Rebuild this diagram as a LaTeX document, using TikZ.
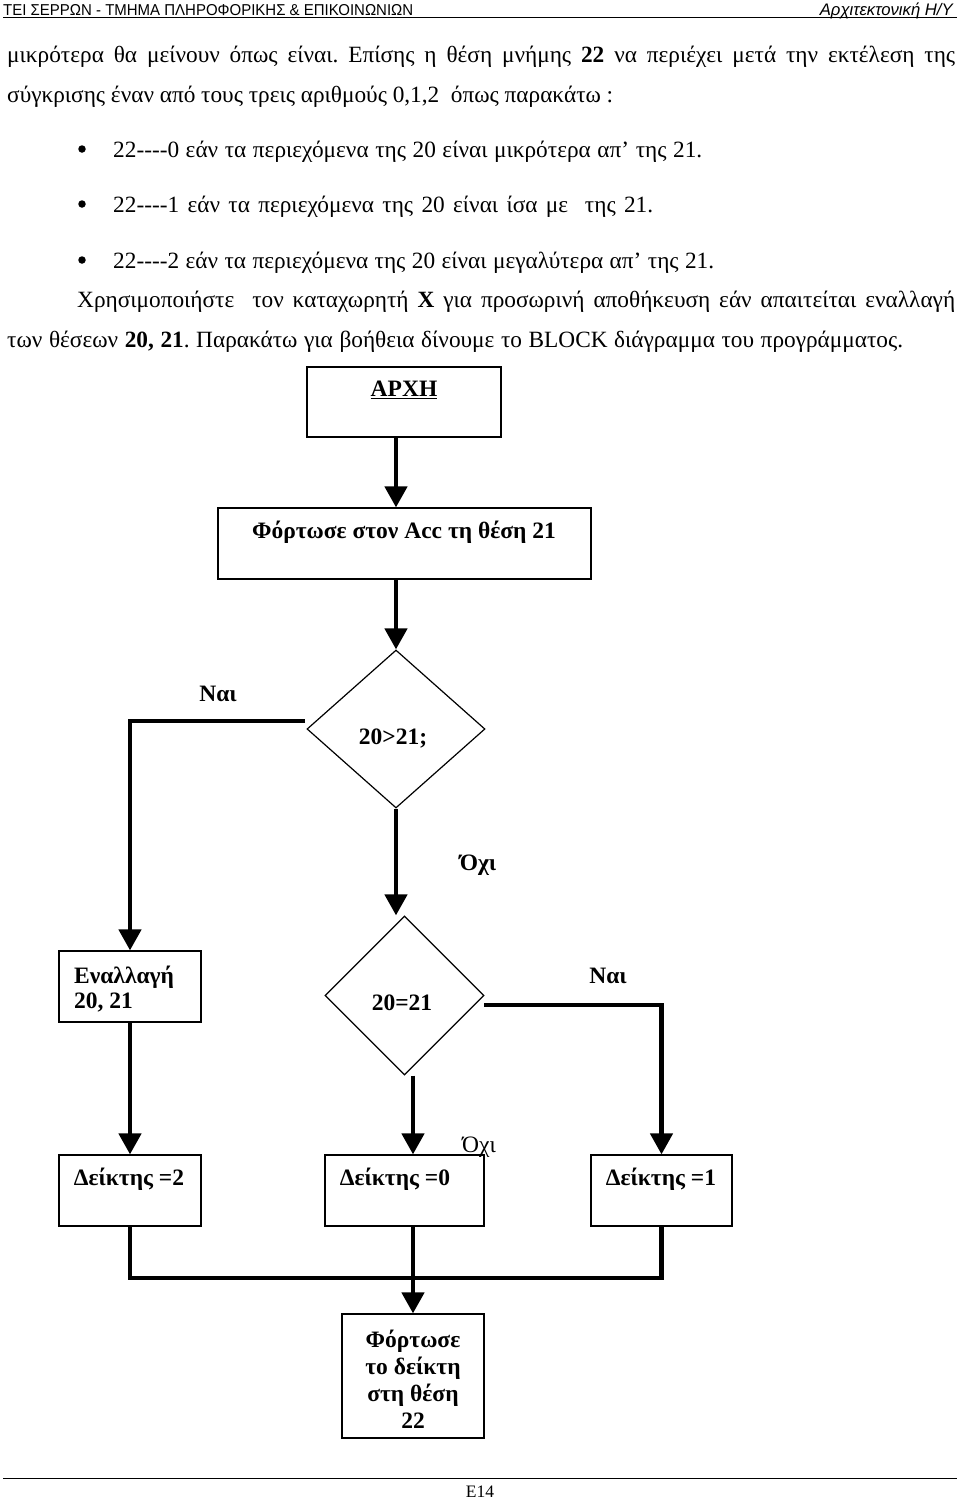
\documentclass[tikz,border=0pt]{standalone}
\usepackage{fontspec}
\usepackage{graphicx}
\setmainfont{Liberation Serif}
\newfontfamily\hdrfont{Liberation Sans}
\usetikzlibrary{arrows.meta,shapes.geometric,calc}
\begin{document}
\frenchspacing
\begin{tikzpicture}[x=1pt,y=-1pt,
  box/.style={draw, line width=1.2pt, inner sep=0pt},
  dia/.style={draw, diamond, line width=1.2pt, inner sep=0pt},
  flow/.style={line width=4.5pt, -{Triangle[width=22pt,length=21pt]}},
  link/.style={line width=4.5pt},
  ftxt/.style={font=\fontsize{23.5}{27}\selectfont\bfseries, inner sep=0pt},
  lbl/.style={font=\fontsize{23.5}{27}\selectfont, inner sep=0pt},
  btxt/.style={font=\fontsize{23.3}{27}\selectfont, inner sep=0pt, anchor=base west},
  bullet/.style={circle, fill=black, inner sep=0pt, minimum size=7.5pt},
]
\useasboundingbox (0,0) rectangle (960,1500);
\fill[white] (0,0) rectangle (960,1500);

% header
\node[inner sep=0pt, anchor=base west] (hdrL) at (3,15) {\resizebox{410pt}{11pt}{\hdrfont ΤΕΙ ΣΕΡΡΩΝ - ΤΜΗΜΑ ΠΛΗΡΟΦΟΡΙΚΗΣ \& ΕΠΙΚΟΙΝΩΝΙΩΝ}};
\node[inner sep=0pt, anchor=base east] (hdrR) at (953,15) {\resizebox{133pt}{!}{\hdrfont\itshape Αρχιτεκτονική Η/Υ}};
\draw[line width=0.8pt] (3,17.5) -- (957,17.5);

% body text
\node[btxt] (t1) at (7,62) {\makebox[948pt][s]{μικρότερα θα μείνουν όπως είναι. Επίσης η θέση μνήμης \textbf{22} να περιέχει μετά την εκτέλεση της}};
\node[btxt] (t2) at (7,102) {\makebox[606pt][s]{σύγκρισης έναν από τους τρεις αριθμούς 0,1,2\ \ όπως παρακάτω :}};
\node[bullet] (b1) at (82,149) {};
\node[btxt] (t3) at (113,157) {\makebox[589pt][s]{22-{}-{}-{}-0 εάν τα περιεχόμενα της 20 είναι μικρότερα απ’ της 21.}};
\node[bullet] (b2) at (82,204) {};
\node[btxt] (t4) at (113,212) {\makebox[540pt][s]{22-{}-{}-{}-1 εάν τα περιεχόμενα της 20 είναι ίσα με\ \ της 21.}};
\node[bullet] (b3) at (82,260) {};
\node[btxt] (t5) at (113,268) {\makebox[601pt][s]{22-{}-{}-{}-2 εάν τα περιεχόμενα της 20 είναι μεγαλύτερα απ’ της 21.}};
\node[btxt] (t6) at (77,307) {\makebox[878pt][s]{Χρησιμοποιήστε\ \ τον καταχωρητή \textbf{Χ} για προσωρινή αποθήκευση εάν απαιτείται εναλλαγή}};
\node[btxt] (t7) at (7,347) {\makebox[896pt][s]{των θέσεων \textbf{20, 21}. Παρακάτω για βοήθεια δίνουμε το BLOCK διάγραμμα του προγράμματος.}};

% flowchart shapes
\node[box, minimum width=194pt, minimum height=70pt] (start) at (404,402) {};
\node[ftxt] (startT) at (404,390) {\underline{ΑΡΧΗ}};
\node[box, minimum width=373pt, minimum height=71pt] (load) at (404.5,543.5) {};
\node[ftxt] (loadT) at (404,532) {Φόρτωσε στον Acc τη θέση 21};
\node[dia, minimum width=178pt, minimum height=158pt] (d1) at (396,729) {};
\node[ftxt] (d1T) at (393,738) {20>21;};
\node[dia, minimum width=159pt, minimum height=159pt] (d2) at (404.5,995.5) {};
\node[ftxt] (d2T) at (402,1003) {20=21};
\node[box, minimum width=142pt, minimum height=71pt] (swap) at (130,986.5) {};
\node[ftxt, anchor=west, align=left, font=\fontsize{23.5}{25}\selectfont\bfseries] (swapT) at (74,989.5) {Εναλλαγή\\20, 21};
\node[box, minimum width=142pt, minimum height=71pt] (i2) at (130,1190.5) {};
\node[ftxt] (i2T) at (129,1179) {Δείκτης =2};
\node[box, minimum width=159pt, minimum height=71pt] (i0) at (404.5,1190.5) {};
\node[ftxt] (i0T) at (395,1179) {Δείκτης =0};
\node[box, minimum width=141pt, minimum height=71pt] (i1) at (661.5,1190.5) {};
\node[ftxt] (i1T) at (661,1179) {Δείκτης =1};
\node[box, minimum width=142pt, minimum height=124pt] (fin) at (413,1376) {};
\node[ftxt, align=center, font=\fontsize{23.5}{27}\selectfont\bfseries] (finT) at (413,1379) {Φόρτωσε\\το δείκτη\\στη θέση\\22};

% labels
\node[ftxt] (naiL) at (218,694) {Ναι};
\node[ftxt] (ochi1) at (478,865) {Όχι};
\node[ftxt] (naiR) at (608,976) {Ναι};
\node[lbl] (ochi2) at (479,1147) {Όχι};

% connectors
\coordinate (nyL) at (305,721);
\coordinate (nyR) at (484,1005);
\coordinate (m) at (413,1278);
\draw[flow] (start.south -| d1.north) -- (load.north -| d1.north);
\draw[flow] (load.south -| d1.north) -- (d1.north);
\draw[flow] (nyL) -| (swap.north);
\draw[flow] (d1.south) -- (d1.south |- d2.north);
\draw[flow] (nyR) -| (i1.north);
\draw[flow] (d2.south -| fin.north) -- (i0.north -| fin.north);
\draw[flow] (swap.south) -- (i2.north);
\draw[link] (i2.south) |- (i1.south |- m) -- (i1.south);
\draw[flow] (i0.south -| fin.north) -- (fin.north);

% footer
\draw[line width=0.8pt] (3,1478) -- (957,1478);
\node[inner sep=0pt, anchor=base, font=\fontsize{17.5}{20}\selectfont] (pg) at (480,1497) {Ε14};
\end{tikzpicture}
\end{document}
